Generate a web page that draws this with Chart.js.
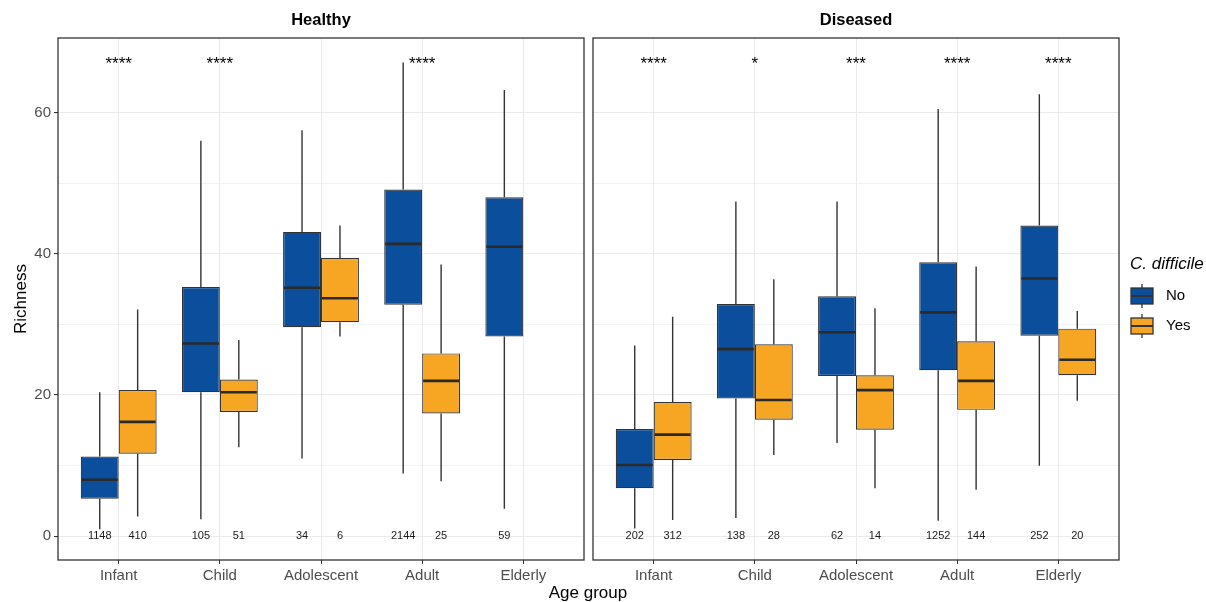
<!DOCTYPE html>
<html>
<head>
<meta charset="utf-8">
<script src="https://cdn.jsdelivr.net/npm/chart.js@4.4.0/dist/chart.umd.min.js"></script>
<style>
  body { margin: 0; background: #fff; width: 1206px; height: 602px; overflow: hidden; position: relative; font-family: 'Liberation Sans', Arial, sans-serif; }
  #wrapL { position: absolute; left: 0; top: 0; width: 590px; height: 602px; }
  #wrapR { position: absolute; left: 590px; top: 0; width: 616px; height: 602px; }
  #xtitle { position: absolute; left: 0; width: 1176px; top: 583px; text-align: center; font-size: 17px; color: #000; line-height: 20px; }
</style>
</head>
<body>
<div id="wrapL"><canvas id="healthy" width="590" height="602"></canvas></div>
<div id="wrapR"><canvas id="diseased" width="616" height="602"></canvas></div>
<div id="xtitle">Age group</div>
<script>
// categories and positions on the x scale
const ageGroups = ['Infant', 'Child', 'Adolescent', 'Adult', 'Elderly'];
const groupPos = [1, 2, 3, 4, 5];
const yTicks = [0, 10, 20, 30, 40, 50, 60];

// box stats per age group: [min, q1, median, q3, max]
const healthyNo = [[1.0, 5.3, 8.0, 11.3, 20.4], [2.4, 20.4, 27.3, 35.3, 56.0], [11.0, 29.6, 35.2, 43.1, 57.5], [8.9, 32.8, 41.4, 49.1, 67.1], [3.9, 28.3, 41.0, 48.0, 63.2]];
const healthyYes = [[2.8, 11.7, 16.2, 20.7, 32.1], [12.6, 17.6, 20.4, 22.2, 27.8], [28.3, 30.3, 33.7, 39.4, 44.0], [7.8, 17.4, 22.0, 25.9, 38.5], null];
const diseasedNo = [[1.1, 6.8, 10.1, 15.2, 27.0], [2.6, 19.5, 26.5, 32.9, 47.4], [13.2, 22.7, 28.9, 34.0, 47.4], [2.2, 23.5, 31.7, 38.8, 60.5], [10.0, 28.4, 36.5, 44.0, 62.6]];
const diseasedYes = [[2.3, 10.8, 14.4, 19.0, 31.1], [11.5, 16.5, 19.3, 27.2, 36.4], [6.8, 15.1, 20.7, 22.8, 32.3], [6.6, 17.9, 22.0, 27.6, 38.2], [19.2, 22.8, 25.0, 29.4, 31.9]];

// sample sizes printed at y = 0
const healthyNoN = [1148, 105, 34, 2144, 59];
const healthyYesN = [410, 51, 6, 25, null];
const diseasedNoN = [202, 138, 62, 1252, 252];
const diseasedYesN = [312, 28, 14, 144, 20];

// significance labels
const healthyStars = ['****', '****', '', '****', ''];
const diseasedStars = ['****', '*', '***', '****', '****'];
const starLevel = 67.2;

const BLUE = '#0b4f9c';
const ORANGE = '#f6a623';
const INK = '#333333';
const GRID = '#ebebeb';

function series(stats, counts) {
    const pts = [];
    stats.forEach((s, i) => {
        if (s) pts.push({ x: groupPos[i], y: [s[1], s[3]], s: s, n: counts[i] });
    });
    return pts;
}

const boxParts = {
    id: 'boxParts',
    beforeDatasetsDraw(chart) {
        // whiskers
        const ctx = chart.ctx, ys = chart.scales.y;
        ctx.save();
        ctx.strokeStyle = INK;
        ctx.lineWidth = 1.4;
        chart.data.datasets.forEach((ds, di) => {
            chart.getDatasetMeta(di).data.forEach((el, i) => {
                const s = ds.data[i].s;
                ctx.beginPath();
                ctx.moveTo(el.x, ys.getPixelForValue(s[4]));
                ctx.lineTo(el.x, ys.getPixelForValue(s[3]));
                ctx.moveTo(el.x, ys.getPixelForValue(s[1]));
                ctx.lineTo(el.x, ys.getPixelForValue(s[0]));
                ctx.stroke();
            });
        });
        ctx.restore();
    },
    afterDatasetsDraw(chart, args, opts) {
        const ctx = chart.ctx, ys = chart.scales.y, xs = chart.scales.x;
        ctx.save();
        // medians + counts
        chart.data.datasets.forEach((ds, di) => {
            chart.getDatasetMeta(di).data.forEach((el, i) => {
                const d = ds.data[i];
                const ym = ys.getPixelForValue(d.s[2]);
                ctx.strokeStyle = '#2a2a2a';
                ctx.lineWidth = 2.6;
                ctx.beginPath();
                ctx.moveTo(el.x - el.width / 2 + 1, ym);
                ctx.lineTo(el.x + el.width / 2 - 1, ym);
                ctx.stroke();
                ctx.fillStyle = '#1a1a1a';
                ctx.font = '11px "Liberation Sans", Arial, sans-serif';
                ctx.textAlign = 'center';
                ctx.textBaseline = 'middle';
                ctx.fillText(String(d.n), el.x, ys.getPixelForValue(0));
            });
        });
        // stars
        ctx.fillStyle = '#000';
        ctx.font = '17px "Liberation Sans", Arial, sans-serif';
        ctx.textAlign = 'center';
        ctx.textBaseline = 'alphabetic';
        opts.stars.forEach((st, i) => {
            if (st) ctx.fillText(st, xs.getPixelForValue(groupPos[i]), ys.getPixelForValue(starLevel) + 7);
        });
        ctx.restore();
    },
    afterDraw(chart, args, opts) {
        const ctx = chart.ctx, a = chart.chartArea;
        ctx.save();
        // panel border
        ctx.strokeStyle = INK;
        ctx.lineWidth = 1.3;
        ctx.strokeRect(a.left, a.top, a.right - a.left, a.bottom - a.top);
        // facet title
        ctx.fillStyle = '#000';
        ctx.font = 'bold 16.5px "Liberation Sans", Arial, sans-serif';
        ctx.textAlign = 'center';
        ctx.textBaseline = 'middle';
        ctx.fillText(opts.title, (a.left + a.right) / 2, 20);
        // legend
        if (opts.legend) {
            const lx = a.right + 12;
            ctx.font = 'italic 17px "Liberation Sans", Arial, sans-serif';
            ctx.textAlign = 'left';
            ctx.fillText('C. difficile', lx - 1, 264);
            [['No', BLUE, 296], ['Yes', ORANGE, 326]].forEach(([lab, col, cy]) => {
                ctx.strokeStyle = INK;
                ctx.lineWidth = 1.3;
                ctx.beginPath();
                ctx.moveTo(lx + 11, cy - 12);
                ctx.lineTo(lx + 11, cy + 12);
                ctx.stroke();
                ctx.fillStyle = col;
                ctx.fillRect(lx, cy - 8, 22, 16);
                ctx.strokeRect(lx, cy - 8, 22, 16);
                ctx.lineWidth = 2;
                ctx.beginPath();
                ctx.moveTo(lx, cy);
                ctx.lineTo(lx + 22, cy);
                ctx.stroke();
                ctx.fillStyle = '#000';
                ctx.font = '15px "Liberation Sans", Arial, sans-serif';
                ctx.fillText(lab, lx + 35, cy);
            });
        }
        ctx.restore();
    }
};

function makeChart(id, title, noStats, yesStats, noN, yesN, stars, leftAxis) {
    const ctx = document.getElementById(id).getContext('2d');
    return new Chart(ctx, {
        type: 'bar',
        data: {
            datasets: [
                { label: 'No', data: series(noStats, noN), backgroundColor: BLUE, borderColor: INK, borderWidth: 1.2, borderSkipped: false },
                { label: 'Yes', data: series(yesStats, yesN), backgroundColor: ORANGE, borderColor: INK, borderWidth: 1.2, borderSkipped: false }
            ]
        },
        options: {
            responsive: false,
            animation: false,
            categoryPercentage: 0.75,
            barPercentage: 1.0,
            layout: { padding: { top: 38, right: leftAxis ? 6 : 87, left: 0, bottom: 0 } },
            plugins: {
                legend: { display: false },
                tooltip: { enabled: false },
                boxParts: { title: title, stars: stars, legend: !leftAxis }
            },
            scales: {
                x: {
                    type: 'linear',
                    min: 0.4,
                    max: 5.6,
                    offset: false,
                    afterBuildTicks: axis => { axis.ticks = groupPos.map(v => ({ value: v })); },
                    afterFit: axis => { axis.height = 42; },
                    border: { display: false },
                    grid: { offset: false, color: GRID, lineWidth: 1, tickColor: INK, tickLength: 4 },
                    ticks: {
                        autoSkip: false, maxRotation: 0, padding: 3,
                        color: '#4d4d4d',
                        font: { family: '"Liberation Sans", Arial, sans-serif', size: 15 },
                        callback: v => ageGroups[groupPos.indexOf(v)]
                    }
                },
                y: {
                    min: -3.36,
                    max: 70.56,
                    afterBuildTicks: axis => { axis.ticks = yTicks.map(v => ({ value: v })); },
                    afterFit: axis => { axis.width = leftAxis ? 58 : 3; },
                    border: { display: false },
                    grid: {
                        color: GRID,
                        lineWidth: c => (c.tick && c.tick.value % 20 === 0) ? 1.1 : 0.6,
                        drawTicks: leftAxis,
                        tickLength: 4,
                        tickColor: c => (c.tick && c.tick.value % 20 === 0) ? INK : 'rgba(0,0,0,0)'
                    },
                    ticks: {
                        display: leftAxis, padding: 3,
                        color: '#4d4d4d',
                        font: { family: '"Liberation Sans", Arial, sans-serif', size: 15 },
                        callback: v => (v % 20 === 0 ? String(v) : '')
                    },
                    title: {
                        display: leftAxis, text: 'Richness', color: '#000',
                        font: { family: '"Liberation Sans", Arial, sans-serif', size: 17 },
                        padding: { top: 11, bottom: 0 }
                    }
                }
            }
        },
        plugins: [boxParts]
    });
}

makeChart('healthy', 'Healthy', healthyNo, healthyYes, healthyNoN, healthyYesN, healthyStars, true);
makeChart('diseased', 'Diseased', diseasedNo, diseasedYes, diseasedNoN, diseasedYesN, diseasedStars, false);
</script>
</body>
</html>
